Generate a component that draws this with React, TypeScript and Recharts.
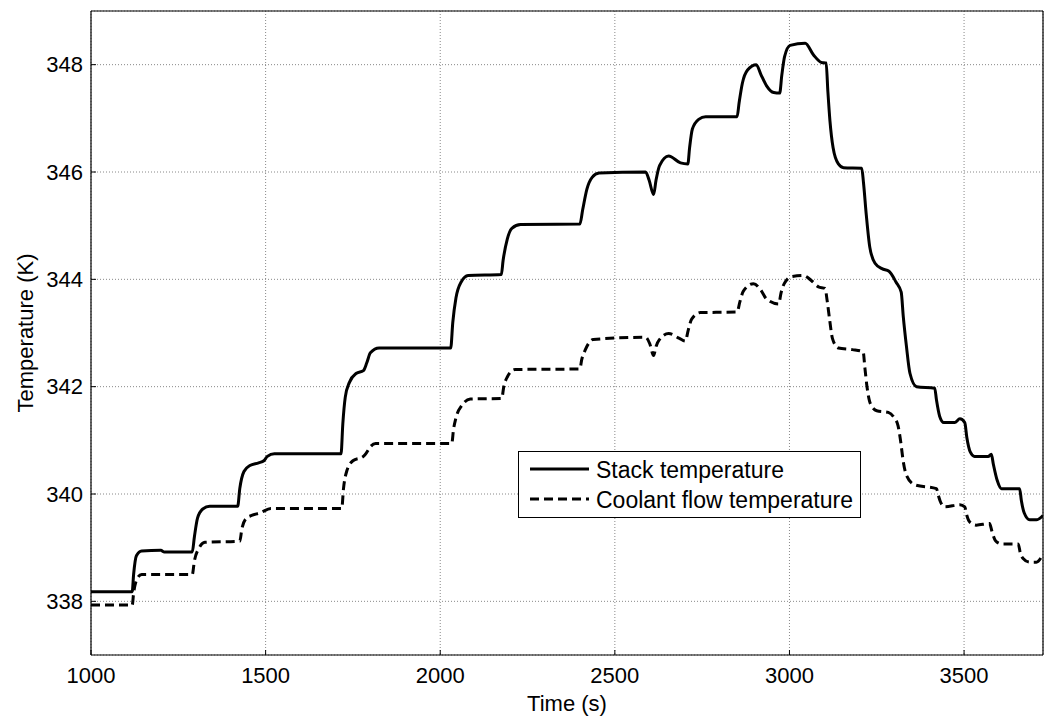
import React from "react";
import {
  LineChart,
  Line,
  XAxis,
  YAxis,
  CartesianGrid,
  Legend,
  Label,
} from "recharts";

const FONT = "'Liberation Sans', Arial, Helvetica, sans-serif";

// Stack temperature (K) vs time (s)
const stackTime = [
  1000, 1118, 1122, 1130, 1145, 1200, 1210, 1290, 1296, 1305, 1320, 1340, 1420, 1426, 1438,
  1455, 1480, 1495, 1505, 1525, 1716, 1721, 1728, 1740, 1760, 1780, 1790, 1800, 1825, 2030,
  2036, 2045, 2060, 2080, 2175, 2180, 2192, 2205, 2230, 2400, 2408, 2420, 2435, 2455, 2588,
  2598, 2611, 2618, 2628, 2654, 2688, 2709, 2714, 2722, 2740, 2760, 2850, 2856, 2865, 2880,
  2905, 2918, 2935, 2955, 2972, 2978, 2986, 3002, 3045, 3069, 3092, 3105, 3110, 3116, 3125,
  3140, 3155, 3207, 3212, 3220, 3230, 3245, 3265, 3285, 3305, 3320, 3326, 3335, 3345, 3364,
  3416, 3421, 3430, 3442, 3473, 3488, 3502, 3508, 3518, 3530, 3569, 3578, 3584, 3595, 3607,
  3659, 3664, 3672, 3688, 3707, 3726,
];
const stackTemp = [
  338.18, 338.18, 338.5, 338.85, 338.94, 338.95, 338.92, 338.92, 339.2, 339.55, 339.72, 339.77, 339.77, 340.1, 340.42,
  340.53, 340.58, 340.62, 340.7, 340.75, 340.75, 341.3, 341.8, 342.08, 342.25, 342.3, 342.45, 342.63, 342.72, 342.72,
  343.2, 343.65, 343.95, 344.07, 344.09, 344.35, 344.75, 344.95, 345.02, 345.03, 345.3, 345.68, 345.9, 345.98, 346.0,
  345.85, 345.58, 345.85, 346.12, 346.3, 346.17, 346.15, 346.45, 346.8, 346.98, 347.03, 347.03, 347.3, 347.65, 347.9,
  348.0, 347.82, 347.6, 347.48, 347.47, 347.8, 348.15, 348.36, 348.4, 348.18, 348.04, 348.03, 347.5, 346.95, 346.45,
  346.15, 346.08, 346.07, 345.8, 345.2, 344.6, 344.3, 344.2, 344.15, 343.95, 343.76, 343.3, 342.75, 342.25, 342.0,
  341.97, 341.75, 341.45, 341.33, 341.33, 341.4, 341.33, 341.05, 340.78, 340.7, 340.7, 340.74, 340.55, 340.25, 340.1,
  340.1, 339.88, 339.65, 339.52, 339.52, 339.6,
];

// Coolant flow temperature (K) vs time (s)
const coolantTime = [
  1000, 1118, 1122, 1132, 1145, 1290, 1296, 1310, 1326, 1426, 1432, 1445, 1460, 1485, 1515,
  1718, 1723, 1732, 1750, 1780, 1790, 1800, 1815, 2033, 2038, 2045, 2062, 2086, 2176, 2182,
  2192, 2214, 2400, 2405, 2415, 2438, 2588, 2600, 2611, 2618, 2628, 2654, 2685, 2702, 2710,
  2720, 2745, 2850, 2858, 2868, 2897, 2916, 2935, 2969, 2976, 2985, 3006, 3040, 3064, 3083,
  3102, 3108, 3115, 3123, 3140, 3180, 3211, 3216, 3222, 3232, 3250, 3283, 3300, 3311, 3318,
  3326, 3335, 3359, 3421, 3426, 3432, 3445, 3488, 3502, 3508, 3516, 3535, 3573, 3580, 3590,
  3607, 3655, 3661, 3669, 3688, 3707, 3726,
];
const coolantTemp = [
  337.93, 337.93, 338.15, 338.42, 338.5, 338.5, 338.75, 339.0, 339.1, 339.12, 339.35, 339.55, 339.6, 339.65, 339.73,
  339.73, 340.1, 340.42, 340.62, 340.7, 340.78, 340.88, 340.94, 340.94, 341.2, 341.42, 341.65, 341.77, 341.78, 342.0,
  342.18, 342.32, 342.33, 342.5, 342.68, 342.88, 342.92, 342.8, 342.58, 342.75, 342.88, 342.99, 342.9, 342.85, 343.05,
  343.26, 343.38, 343.39, 343.58, 343.78, 343.92, 343.82, 343.63, 343.54, 343.75, 343.92, 344.05, 344.07, 343.97, 343.86,
  343.83, 343.6, 343.25, 342.9, 342.72, 342.69, 342.65, 342.35, 342.0, 341.68, 341.55, 341.52, 341.42, 341.27, 341.0,
  340.6, 340.35, 340.17, 340.1, 339.98, 339.86, 339.76, 339.8, 339.76, 339.6, 339.48, 339.42, 339.45, 339.3, 339.13,
  339.07, 339.07, 338.9, 338.8, 338.73, 338.73, 338.88,
];

const xTicks = [1000, 1500, 2000, 2500, 3000, 3500];
const yTicks = [338, 340, 342, 344, 346, 348];

const stackData = stackTime.map((t, i) => ({ t, v: stackTemp[i] }));
const coolantData = coolantTime.map((t, i) => ({ t, v: coolantTemp[i] }));

function YTitle({ viewBox }: any) {
  const cy = viewBox.y + viewBox.height / 2;
  return (
    <text
      x={25}
      y={cy}
      transform={`rotate(-90, 25, ${cy})`}
      textAnchor="middle"
      dominantBaseline="central"
      fontSize={22}
      fontFamily={FONT}
      fill="#000"
    >
      Temperature (K)
    </text>
  );
}

function XTitle({ viewBox }: any) {
  return (
    <text
      x={viewBox.x + viewBox.width / 2}
      y={703}
      textAnchor="middle"
      dominantBaseline="central"
      fontSize={22}
      fontFamily={FONT}
      fill="#000"
    >
      Time (s)
    </text>
  );
}

function LegendBox() {
  return (
    <svg width={343} height={67} style={{ display: "block" }}>
      <rect x={0.5} y={0.5} width={342} height={66} fill="#fff" stroke="#000" strokeWidth={1} />
      <line x1={12} x2={71} y1={18} y2={18} stroke="#000" strokeWidth={3} />
      <text x={78} y={19} dominantBaseline="central" fontSize={23} fontFamily={FONT} fill="#000">
        Stack temperature
      </text>
      <line x1={12} x2={71} y1={48} y2={48} stroke="#000" strokeWidth={3} strokeDasharray="9 5" />
      <text x={78} y={49} dominantBaseline="central" fontSize={23} fontFamily={FONT} fill="#000">
        Coolant flow temperature
      </text>
    </svg>
  );
}

export default function App() {
  const tickStyle = { fontSize: 22, fontFamily: FONT, fill: "#000" };
  const frame = { stroke: "#000", strokeWidth: 1.2 };
  return (
    <div style={{ position: "absolute", left: 0, top: 0, background: "#fff" }}>
      <LineChart width={1045} height={717} margin={{ top: 10, right: 0, left: 0, bottom: 0 }}>
        <CartesianGrid xAxisId="b" yAxisId="l" stroke="#888" strokeDasharray="1 2" />
        <XAxis
          xAxisId="b"
          dataKey="t"
          type="number"
          domain={[1000, 3726]}
          ticks={xTicks}
          allowDataOverflow
          height={62}
          tickSize={-5}
          tickMargin={17}
          tick={tickStyle}
          axisLine={frame}
          tickLine={{ stroke: "#000" }}
        >
          <Label content={<XTitle />} />
        </XAxis>
        <XAxis
          xAxisId="t"
          orientation="top"
          dataKey="t"
          type="number"
          domain={[1000, 3726]}
          ticks={xTicks}
          allowDataOverflow
          height={1}
          tickSize={-5}
          tick={false}
          axisLine={frame}
          tickLine={{ stroke: "#000" }}
        />
        <YAxis
          yAxisId="l"
          type="number"
          domain={[337, 349]}
          ticks={yTicks}
          allowDataOverflow
          width={91}
          tickSize={-5}
          tickMargin={13}
          tick={tickStyle}
          axisLine={frame}
          tickLine={{ stroke: "#000" }}
        >
          <Label content={<YTitle />} />
        </YAxis>
        <YAxis
          yAxisId="r"
          orientation="right"
          type="number"
          domain={[337, 349]}
          ticks={yTicks}
          allowDataOverflow
          width={2}
          tickSize={-5}
          tick={false}
          axisLine={frame}
          tickLine={{ stroke: "#000" }}
        />
        <Legend
          verticalAlign="middle"
          align="center"
          layout="horizontal"
          content={<LegendBox />}
          wrapperStyle={{ left: 518, top: 451, width: 343, height: 67 }}
        />
        <Line
          xAxisId="b"
          yAxisId="l"
          data={stackData}
          dataKey="v"
          name="Stack temperature"
          type="monotone"
          stroke="#000"
          strokeWidth={3}
          dot={false}
          isAnimationActive={false}
        />
        <Line
          xAxisId="b"
          yAxisId="l"
          data={coolantData}
          dataKey="v"
          name="Coolant flow temperature"
          type="monotone"
          stroke="#000"
          strokeWidth={3}
          strokeDasharray="9 5"
          dot={false}
          isAnimationActive={false}
        />
      </LineChart>
    </div>
  );
}
